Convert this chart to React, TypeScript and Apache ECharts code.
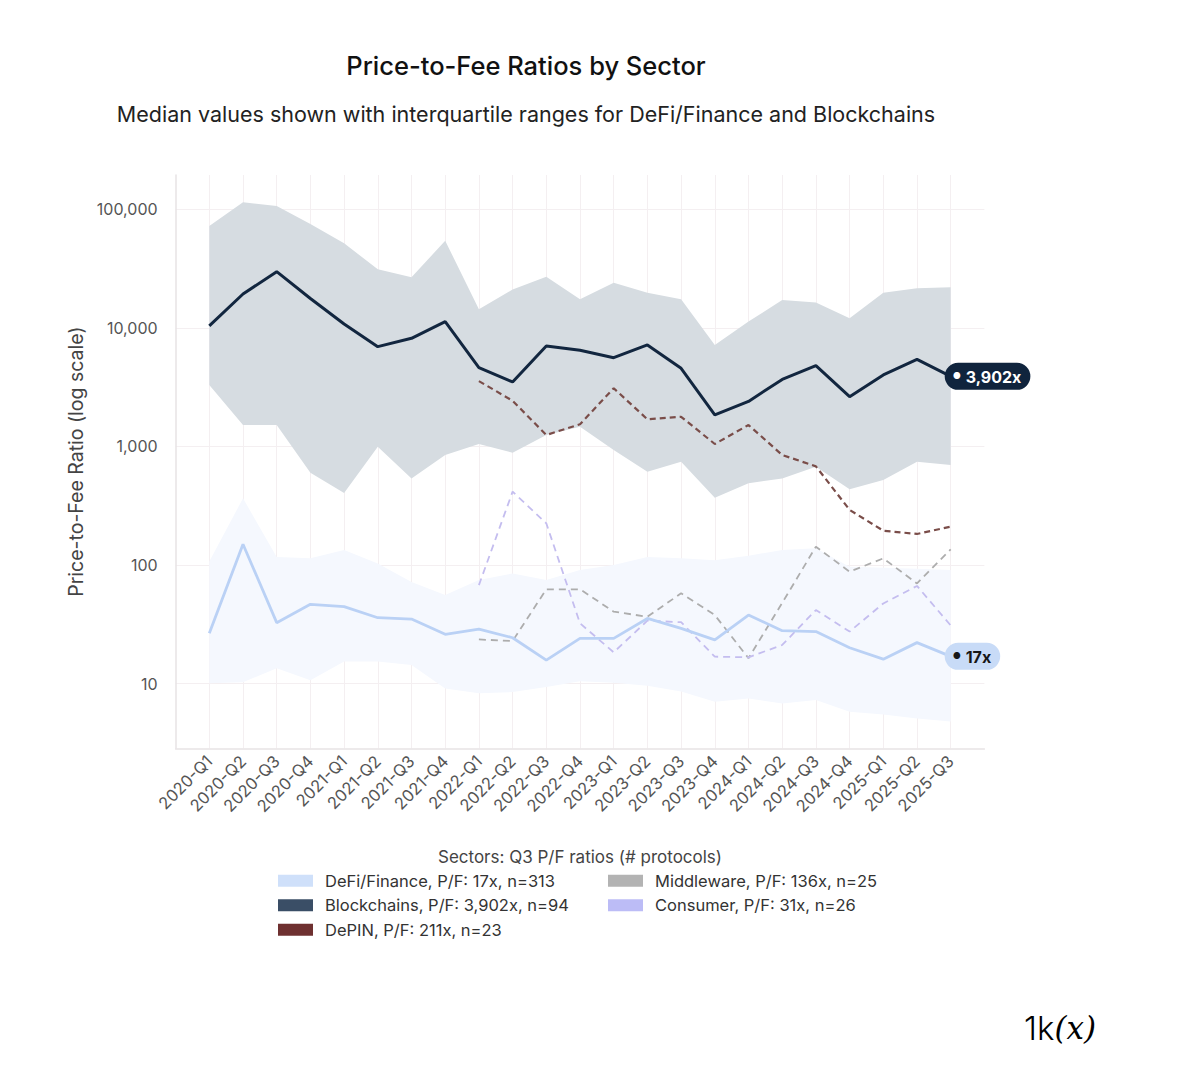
import React, { useEffect, useRef } from 'react';
import * as echarts from 'echarts';

const quarters = [
  '2020-Q1', '2020-Q2', '2020-Q3', '2020-Q4',
  '2021-Q1', '2021-Q2', '2021-Q3', '2021-Q4',
  '2022-Q1', '2022-Q2', '2022-Q3', '2022-Q4',
  '2023-Q1', '2023-Q2', '2023-Q3', '2023-Q4',
  '2024-Q1', '2024-Q2', '2024-Q3', '2024-Q4',
  '2025-Q1', '2025-Q2', '2025-Q3'
];

// Blockchains: median and interquartile range
const blockchainMedian = [10400, 19300, 29800, 17700, 10800, 6950, 8170, 11300, 4620, 3500, 7030, 6470, 5610, 7180, 4560, 1845, 2400, 3680, 4800, 2630, 4010, 5430, 3902];
const blockchainUpper = [72300, 114600, 106600, 75100, 51700, 31200, 26700, 54300, 14350, 21100, 27000, 17400, 24000, 19800, 17400, 7180, 11300, 17200, 16400, 12050, 19800, 21600, 22000];
const blockchainLower = [3300, 1520, 1520, 600, 405, 995, 538, 848, 1050, 887, 1250, 1470, 933, 612, 745, 370, 490, 538, 676, 435, 521, 745, 698];

// DeFi/Finance: median and interquartile range
const defiMedian = [26.6, 150, 32.7, 46.7, 44.6, 36, 35.1, 26.1, 28.9, 24.4, 15.8, 24.1, 24.1, 35.5, 29.3, 23.4, 37.9, 28, 27.5, 20.1, 16.1, 22.2, 17];
const defiUpper = [107, 366, 117, 114, 134, 103, 72, 56, 75, 85, 75, 91, 100, 117, 114, 110, 120, 134, 139, 97, 95, 93, 91];
const defiLower = [10.1, 10.3, 13.5, 10.7, 15.4, 15.4, 14.4, 9.1, 8.3, 8.5, 9.4, 10.5, 10.2, 9.6, 8.6, 7.05, 7.5, 6.8, 7.3, 5.8, 5.5, 5.1, 4.8];

// medians only, from 2022-Q1
const depinMedian = [null, null, null, null, null, null, null, null, 3560, 2430, 1250, 1540, 3100, 1695, 1780, 1050, 1518, 848, 680, 292, 195, 183, 211];
const middlewareMedian = [null, null, null, null, null, null, null, null, 23.6, 22.9, 62.5, 62.5, 40.5, 36.7, 57.8, 37.9, 16.4, 48, 143, 88, 114, 70, 136];
const consumerMedian = [null, null, null, null, null, null, null, null, 67.8, 416, 225, 32.3, 18.4, 34, 33, 16.9, 16.7, 21.2, 41.8, 27.5, 47.5, 66.7, 31];

const legendNames = {
  defi: 'DeFi/Finance, P/F: 17x, n=313',
  blockchains: 'Blockchains, P/F: 3,902x, n=94',
  depin: 'DePIN, P/F: 211x, n=23',
  middleware: 'Middleware, P/F: 136x, n=25',
  consumer: 'Consumer, P/F: 31x, n=26'
};

const FONT = 'Inter, "Noto Sans", sans-serif';
const GRID_C = '#f4eff1';

const fmtNum = (v: number) => Math.round(v).toLocaleString('en-US');

// one empty slot on each side of the x axis (plot padding), data shifted by one
const xCats = ['', ...quarters, ''];
const shift = (vals: (number | null)[]) => [null, ...vals];

const isPow10 = (v: number) => {
  const l = Math.log10(v);
  return Math.abs(l - Math.round(l)) < 1e-6;
};

const App: React.FC = () => {
  const chartRef = useRef<HTMLDivElement>(null);

  useEffect(() => {
    if (!chartRef.current) return;
    const chart = echarts.init(chartRef.current, undefined, { renderer: 'svg' });

    const band = (lower: number[], upper: number[], stack: string, color: string) => [
      {
        type: 'line',
        stack,
        data: shift(lower),
        symbol: 'none',
        silent: true,
        lineStyle: { opacity: 0 }
      },
      {
        type: 'line',
        stack,
        data: shift(upper.map((u, i) => u - lower[i])),
        symbol: 'none',
        silent: true,
        lineStyle: { opacity: 0 },
        areaStyle: { color, opacity: 1 }
      }
    ];

    const legendCommon = {
      orient: 'vertical',
      top: 872,
      padding: 0,
      itemWidth: 35,
      itemHeight: 12,
      itemGap: 7,
      icon: 'rect',
      selectedMode: false,
      textStyle: { fontFamily: FONT, fontSize: 16.5, color: '#333', lineHeight: 17.5, padding: [0, 0, 0, 7] }
    };

    const endLabel = (bg: string, fg: string) => ({
      show: true,
      distance: -6,
      formatter: (p: any) => `{d|●} ${fmtNum(p.value)}x`,
      color: fg,
      fontSize: 16,
      fontWeight: 'bold',
      fontFamily: FONT,
      backgroundColor: bg,
      borderRadius: 14,
      padding: [6, 9, 5, 8],
      rich: { d: { fontSize: 9, color: fg, padding: [0, 1, 2, 0] } }
    });

    const option: echarts.EChartsOption = {
      animation: false,
      backgroundColor: '#ffffff',
      textStyle: { fontFamily: FONT },
      grid: { left: 175.6, width: 808.8, top: 175, height: 573.3 },
      xAxis: {
        type: 'category',
        data: xCats,
        boundaryGap: false,
        axisLine: { show: true, lineStyle: { color: '#e7e3e5', width: 1.5 } },
        axisTick: { show: false },
        splitLine: {
          show: true,
          interval: (_i: number, v: string) => v !== '',
          lineStyle: { color: GRID_C }
        },
        axisLabel: {
          interval: 0,
          rotate: 45,
          margin: 10,
          fontSize: 16.5,
          color: '#555'
        }
      },
      yAxis: {
        type: 'log',
        logBase: 10,
        min: 2.853,
        max: 194600,
        name: 'Price-to-Fee Ratio (log scale)',
        nameLocation: 'middle',
        nameGap: 90,
        nameTextStyle: { fontSize: 19.5, color: '#444', fontFamily: FONT },
        axisLine: { show: true, onZero: false, lineStyle: { color: '#e7e3e5', width: 1.5 } },
        axisTick: { show: false },
        splitLine: {
          show: true,
          lineStyle: { color: ['transparent', GRID_C, GRID_C, GRID_C, GRID_C, GRID_C, 'transparent'] }
        },
        axisLabel: {
          formatter: (v: number) => (isPow10(v) ? fmtNum(v) : ''),
          margin: 18,
          fontSize: 16,
          color: '#555'
        }
      },
      legend: [
        { ...legendCommon, left: 278, data: [
          { name: legendNames.defi, itemStyle: { color: '#cfe0fa', borderWidth: 0 } },
          { name: legendNames.blockchains, itemStyle: { color: '#3a4e66', borderWidth: 0 } },
          { name: legendNames.depin, itemStyle: { color: '#6e3030', borderWidth: 0 } }
        ] },
        { ...legendCommon, left: 608, data: [
          { name: legendNames.middleware, itemStyle: { color: '#b3b3b3', borderWidth: 0 } },
          { name: legendNames.consumer, itemStyle: { color: '#bcbcf6', borderWidth: 0 } }
        ] }
      ] as any,
      graphic: [
        {
          type: 'text', x: 526, y: 65,
          style: { text: 'Price-to-Fee Ratios by Sector', textAlign: 'center', textVerticalAlign: 'middle', font: `500 25.5px ${FONT}`, fill: '#111' }
        },
        {
          type: 'text', x: 526, y: 114,
          style: { text: 'Median values shown with interquartile ranges for DeFi/Finance and Blockchains', textAlign: 'center', textVerticalAlign: 'middle', font: `400 21.5px ${FONT}`, fill: '#222' }
        },
        {
          type: 'text', x: 580, y: 857,
          style: { text: 'Sectors: Q3 P/F ratios (# protocols)', textAlign: 'center', textVerticalAlign: 'middle', font: `400 17px ${FONT}`, fill: '#444' }
        },
        {
          type: 'text', x: 1024, y: 1028,
          style: {
            text: '{a|1k}{b|(𝑥)}',
            textVerticalAlign: 'middle',
            rich: {
              a: { fontFamily: FONT, fontWeight: 300, fontSize: 33, color: '#222' },
              b: { fontFamily: '"DejaVu Serif", serif', fontStyle: 'italic', fontSize: 31, color: '#222' }
            }
          } as any
        }
      ],
      series: [
        ...band(blockchainLower, blockchainUpper, 'blk', '#d6dce1'),
        ...band(defiLower, defiUpper, 'defi', '#f5f8fe'),
        {
          name: legendNames.middleware,
          type: 'line',
          data: shift(middlewareMedian),
          symbol: 'none',
          itemStyle: { color: '#b3b3b3' },
          lineStyle: { color: '#adadad', width: 1.8, type: [7, 5] }
        },
        {
          name: legendNames.consumer,
          type: 'line',
          data: shift(consumerMedian),
          symbol: 'none',
          itemStyle: { color: '#bcbcf6' },
          lineStyle: { color: '#c4bdef', width: 1.8, type: [7, 5] }
        },
        {
          name: legendNames.defi,
          type: 'line',
          data: shift(defiMedian),
          symbol: 'none',
          itemStyle: { color: '#cfe0fa' },
          lineStyle: { color: '#bad1f5', width: 2.8 },
          endLabel: endLabel('#c8dbf7', '#161616')
        },
        {
          name: legendNames.depin,
          type: 'line',
          data: shift(depinMedian),
          symbol: 'none',
          itemStyle: { color: '#6e3030' },
          lineStyle: { color: '#7a4d49', width: 2.2, type: [6, 4] }
        },
        {
          name: legendNames.blockchains,
          type: 'line',
          data: shift(blockchainMedian),
          symbol: 'none',
          itemStyle: { color: '#3a4e66' },
          lineStyle: { color: '#12263f', width: 3 },
          endLabel: endLabel('#10243d', '#ffffff')
        }
      ] as any
    };

    chart.setOption(option);

    return () => {
      chart.dispose();
    };
  }, []);

  return (
    <div
      ref={chartRef}
      style={{ position: 'fixed', left: 0, top: 0, width: 1200, height: 1073, background: '#fff' }}
    />
  );
};

export default App;
